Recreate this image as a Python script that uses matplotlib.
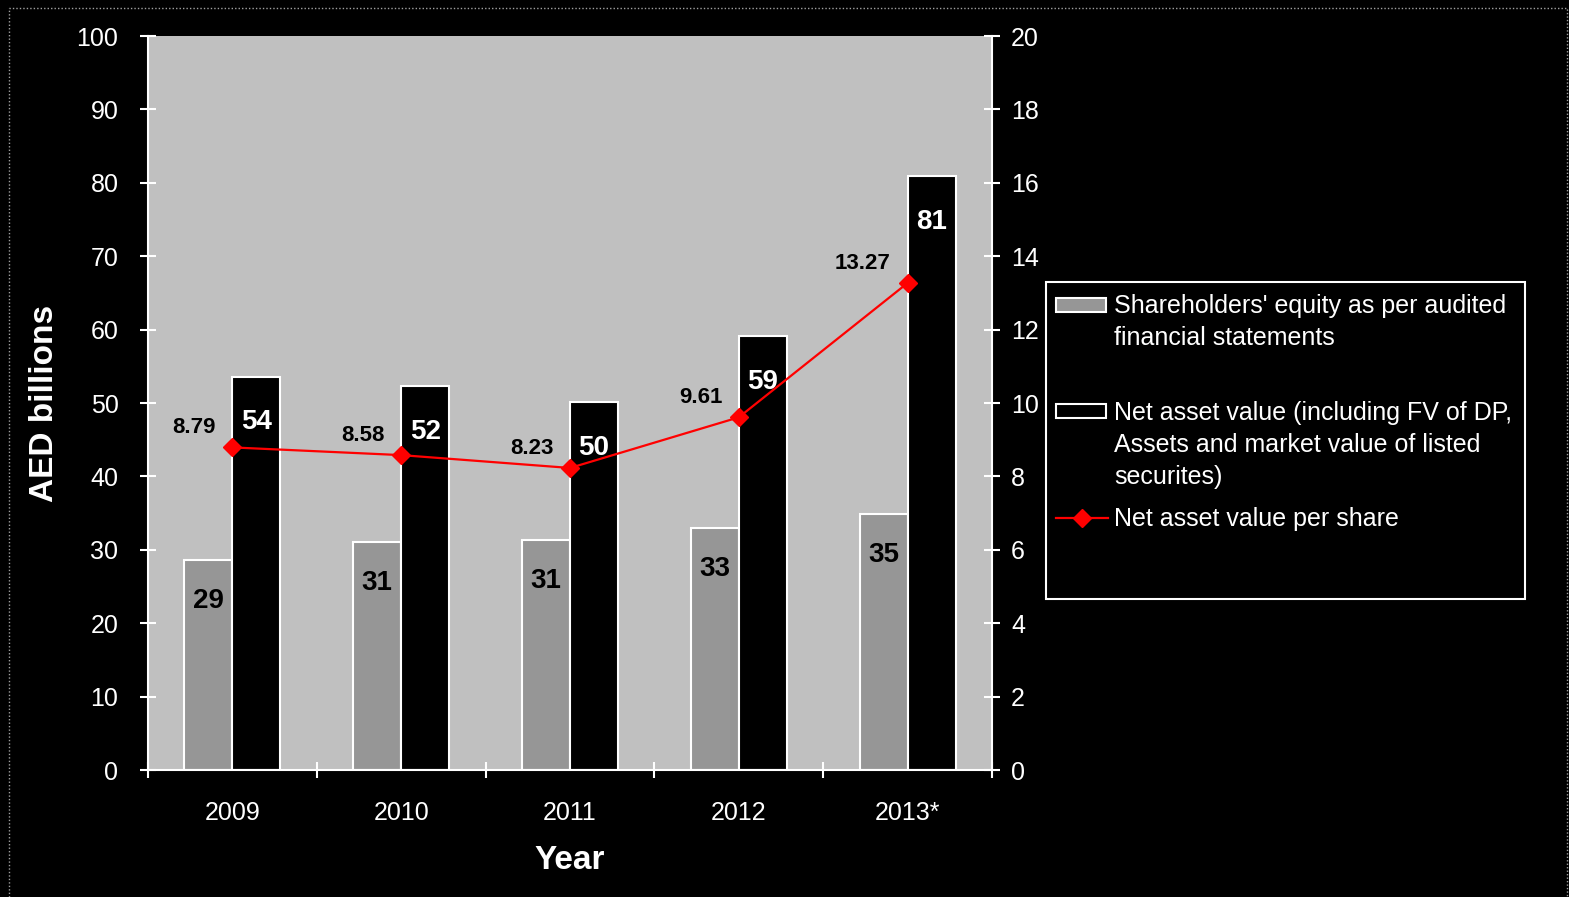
import matplotlib.pyplot as plt
import numpy as np
from matplotlib.patches import Rectangle
from matplotlib.lines import Line2D

plt.rcParams['font.family'] = ['Liberation Sans', 'DejaVu Sans']

# Data
years = ['2009', '2010', '2011', '2012', '2013*']
equity = [28.6, 31.0, 31.3, 33.0, 34.9]          # Shareholders' equity (AED bn)
nav = [53.6, 52.3, 50.1, 59.1, 80.9]             # Net asset value (AED bn)
equity_labels = ['29', '31', '31', '33', '35']
nav_labels = ['54', '52', '50', '59', '81']
nav_per_share = [8.79, 8.58, 8.23, 9.61, 13.27]  # right axis
nav_ps_labels = ['8.79', '8.58', '8.23', '9.61', '13.27']
legend_labels = [
    ["Shareholders' equity as per audited", "financial statements"],
    ["Net asset value (including FV of DP,", "Assets and market value of listed", "securites)"],
    ["Net asset value per share"],
]

W, H = 1569, 897
fig = plt.figure(figsize=(W / 100, H / 100), dpi=100, facecolor='black')


def fx(px):
    return px / W


def fy(py):
    return 1 - py / H


ax = fig.add_axes([fx(148), fy(770), fx(992) - fx(148), fy(36) - fy(770)])
ax.set_facecolor('#C0C0C0')
ax2 = ax.twinx()

x = np.arange(len(years))
bw = 0.284
ax.bar(x - bw / 2, equity, bw, color='#969696', edgecolor='white', linewidth=1.5, zorder=2)
ax.bar(x + bw / 2, nav, bw, color='black', edgecolor='white', linewidth=1.5, zorder=2)

for i in range(len(years)):
    ax.annotate(equity_labels[i], (x[i] - bw / 2, equity[i]), xytext=(0, -29.5),
                textcoords='offset points', ha='center', va='center',
                fontsize=20, fontweight='bold', color='black', zorder=3)
    ax.annotate(nav_labels[i], (x[i] + bw / 2, nav[i]), xytext=(0, -33),
                textcoords='offset points', ha='center', va='center',
                fontsize=20, fontweight='bold', color='white', zorder=3)

ax.set_xlim(-0.5, len(years) - 0.5)
ax.set_ylim(0, 100)
ax.set_yticks(range(0, 101, 10))

ax2.plot(x, nav_per_share, color='#FF0000', linewidth=1.6, marker='D',
         markersize=9, zorder=5)
for i in range(len(years)):
    ax2.annotate(nav_ps_labels[i], (x[i], nav_per_share[i]), xytext=(-12, 14),
                 textcoords='offset points', ha='right', va='center',
                 fontsize=16, fontweight='bold', color='black')
ax2.set_ylim(0, 20)
ax2.set_yticks(range(0, 21, 2))

# spines and ticks
for a in (ax, ax2):
    for s in a.spines.values():
        s.set_visible(False)
ax.spines['left'].set_visible(True)
ax.spines['bottom'].set_visible(True)
ax2.spines['right'].set_visible(True)
for s in (ax.spines['left'], ax.spines['bottom'], ax2.spines['right']):
    s.set_color('white')
    s.set_linewidth(1.5)
ax2.patch.set_visible(False)

ax.tick_params(axis='y', direction='inout', length=11.5, width=1.5, colors='white',
               labelsize=18, pad=15.5)
ax2.tick_params(axis='y', direction='inout', length=11.5, width=1.5, colors='white',
                labelsize=18, pad=8)
ax.set_xticks(x)
ax.set_xticklabels(years)
ax.set_xticks(np.arange(-0.5, len(years), 1), minor=True)
ax.tick_params(axis='x', which='major', length=0, labelsize=18, labelcolor='white', pad=22)
ax.tick_params(axis='x', which='minor', direction='inout', length=11.5, width=1.5,
               color='white')

ax.set_xlabel('Year', fontsize=24, fontweight='bold', color='white', labelpad=15)
ax.set_ylabel('AED billions', fontsize=24, fontweight='bold', color='white', labelpad=12)

# legend box
fig.patches.append(Rectangle((fx(1046), fy(599)), fx(1525) - fx(1046), fy(282) - fy(599),
                             transform=fig.transFigure, facecolor='black',
                             edgecolor='white', linewidth=1.5))
fig.patches.append(Rectangle((fx(1056), fy(312)), fx(1106) - fx(1056), fy(298) - fy(312),
                             transform=fig.transFigure, facecolor='#969696',
                             edgecolor='white', linewidth=1.5))
fig.patches.append(Rectangle((fx(1056), fy(418)), fx(1106) - fx(1056), fy(404) - fy(418),
                             transform=fig.transFigure, facecolor='black',
                             edgecolor='white', linewidth=1.5))
fig.lines.append(Line2D([fx(1056), fx(1108)], [fy(518), fy(518)], transform=fig.transFigure,
                        color='#FF0000', linewidth=1.6))
fig.lines.append(Line2D([fx(1082)], [fy(518)], transform=fig.transFigure,
                        color='#FF0000', marker='D', markersize=9))
first_baselines = [313, 420, 526]
for base, lines in zip(first_baselines, legend_labels):
    for k, line in enumerate(lines):
        fig.text(fx(1114), fy(base + 32 * k), line, color='white', fontsize=18,
                 va='baseline', ha='left')

# dotted outer frame
fig.lines.append(Line2D([fx(9), fx(9), fx(1567), fx(1567)], [0, fy(8), fy(8), 0],
                        transform=fig.transFigure, color='#A0A0A0', linewidth=1,
                        linestyle=(0, (1, 1.5))))

fig.savefig('out.png', dpi=100, facecolor='black')
